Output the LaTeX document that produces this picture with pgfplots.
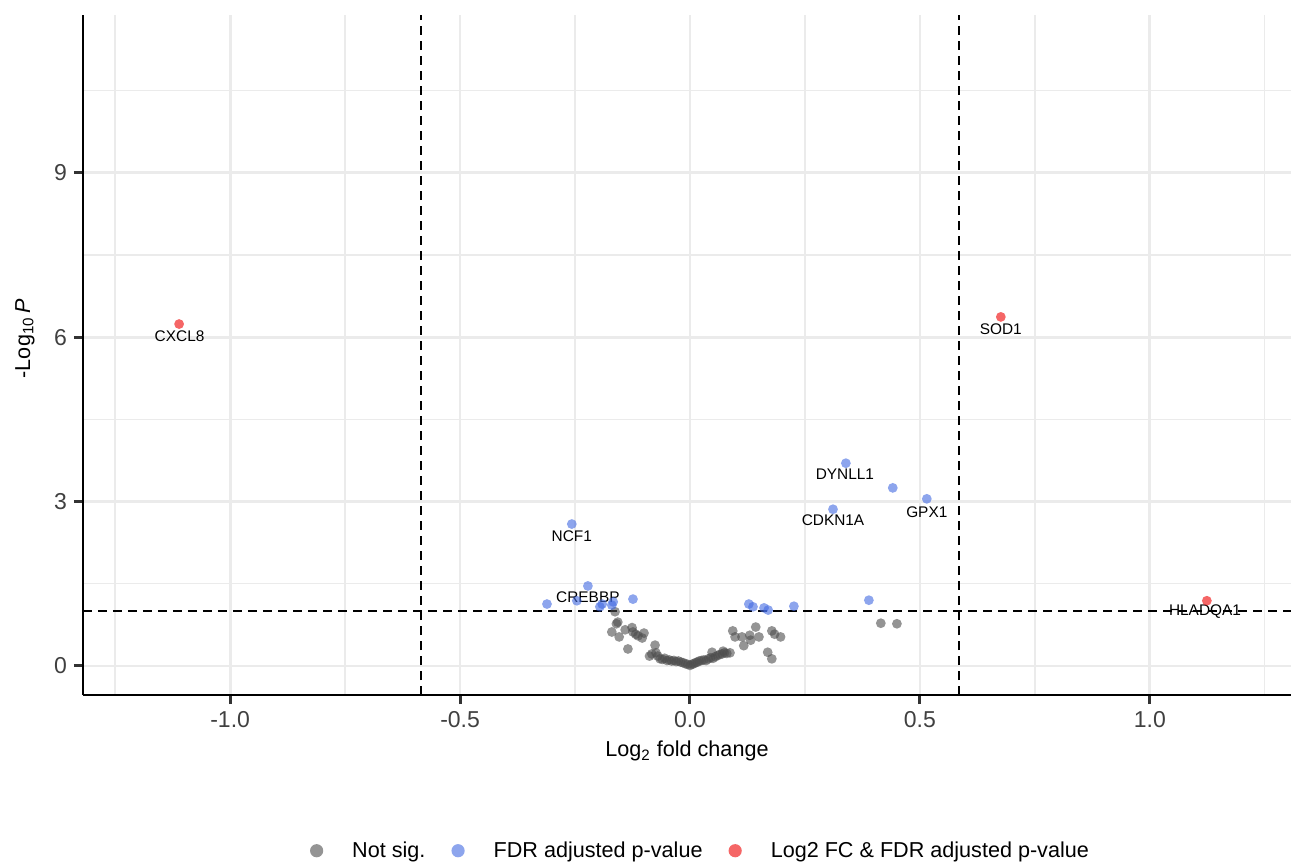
\documentclass[border=0pt]{standalone}
\usepackage{pgfplots}
\pgfplotsset{compat=1.18}
\usepackage{fontspec}
\setmainfont{Liberation Sans}

\definecolor{nsgrey}{HTML}{4D4D4D}
\definecolor{fdrblue}{HTML}{4169E1}
\definecolor{fcred}{HTML}{EE0000}

\pgfplotsset{
  pt/.style={only marks, mark=*, mark size=2.45pt,
    mark options={draw opacity=0, fill=#1, fill opacity=0.6}},
  cut/.style={black, line width=1pt, dash pattern=on 4.5pt off 3pt, forget plot},
}

\begin{document}
\begin{tikzpicture}
\begin{axis}[
  at={(0,0)}, anchor=south west, scale only axis,
  width=604pt, height=340pt,
  xmin=-1.32, xmax=1.307, ymin=-0.53, ymax=11.88,
  axis x line*=bottom, axis y line*=left,
  axis line style={line width=1.2pt, black},
  xtick={-1,-0.5,0,0.5,1}, xticklabels={-1.0,-0.5,0.0,0.5,1.0},
  ytick={0,3,6,9}, yticklabels={0,3,6,9},
  minor xtick={-1.25,-0.75,-0.25,0.25,0.75,1.25},
  minor ytick={1.5,4.5,7.5,10.5},
  grid=both,
  major grid style={line width=1.4pt, color=black!8},
  minor grid style={line width=0.7pt, color=black!8},
  tick align=outside,
  major tick length=4.5pt, minor tick length=0pt,
  tick style={line width=1.5pt, color=black!80},
  tick label style={font=\fontsize{11.5}{13}\selectfont, text=black!75},
  xlabel={Log\textsubscript{2} fold change},
  ylabel={-Log\textsubscript{10}\,\textit{P}},
  label style={font=\fontsize{10.8}{12}\selectfont},
  xlabel style={at={(axis description cs:0.5,-0.091)}, anchor=base},
  ylabel style={at={(axis description cs:-0.048,0.524)}, anchor=center},
  legend columns=3,
  legend style={at={(axis description cs:0.512,-0.229)}, anchor=center,
    draw=none, fill=none, font=\fontsize{10.8}{12}\selectfont,
    /tikz/every odd column/.append style={column sep=12.5pt},
    /tikz/every even column/.append style={column sep=11pt}},
  legend image code/.code={\draw[#1, mark size=3.3pt] plot coordinates {(0pt,0pt)};},
]
% not significant
\addplot[pt=nsgrey] coordinates {
  (-0.163,0.99) (-0.157,0.80) (-0.160,0.77) (-0.170,0.62) (-0.154,0.53)
  (-0.135,0.31) (-0.141,0.66) (-0.126,0.70) (-0.124,0.62) (-0.113,0.55)
  (-0.100,0.60) (-0.104,0.51) (-0.118,0.58) (-0.076,0.38) (-0.083,0.22)
  (-0.074,0.24) (-0.065,0.13) (-0.088,0.18) (-0.070,0.18)
  (-0.060,0.12) (-0.055,0.14) (-0.050,0.10) (-0.045,0.11) (-0.040,0.09)
  (-0.035,0.10) (-0.030,0.08) (-0.025,0.09) (-0.020,0.07) (-0.015,0.06)
  (-0.010,0.04) (-0.005,0.03) (0.000,0.01) (0.004,0.03) (0.008,0.04)
  (0.012,0.06) (0.016,0.07) (0.020,0.09) (0.025,0.10) (0.030,0.11)
  (0.035,0.10) (0.040,0.13) (0.045,0.15) (0.050,0.14) (0.055,0.17)
  (0.060,0.19) (0.065,0.21) (0.070,0.22) (0.075,0.24) (0.080,0.23)
  (0.048,0.25) (0.072,0.27) (0.087,0.24) (0.093,0.64) (0.098,0.53)
  (0.113,0.53) (0.117,0.37) (0.130,0.56) (0.132,0.47) (0.143,0.71)
  (0.150,0.53) (0.169,0.25) (0.178,0.13) (0.178,0.64) (0.184,0.58)
  (0.197,0.53) (0.415,0.78) (0.450,0.77)
};
\addlegendentry{Not sig.}
% FDR adjusted p-value only
\addplot[pt=fdrblue] coordinates {
  (-0.257,2.59) (0.339,3.70) (0.441,3.25) (0.515,3.05) (0.311,2.86)
  (0.389,1.20) (0.226,1.09) (0.128,1.13) (0.137,1.08) (0.161,1.06)
  (0.170,1.02) (-0.311,1.13) (-0.222,1.46) (-0.246,1.19) (-0.196,1.08)
  (-0.191,1.13) (-0.167,1.17) (-0.170,1.11) (-0.124,1.22)
};
\addlegendentry{FDR adjusted p-value}
% log2 FC and FDR
\addplot[pt=fcred] coordinates {
  (-1.111,6.24) (0.676,6.37) (1.124,1.19)
};
\addlegendentry{Log2 FC \& FDR adjusted p-value}

% cut-offs
\addplot[cut] coordinates {(-0.585,-0.53) (-0.585,11.88)};
\addplot[cut] coordinates {(0.585,-0.53) (0.585,11.88)};
\addplot[cut] coordinates {(-1.32,1) (1.307,1)};

% gene labels
\begin{scope}[every node/.style={font=\fontsize{7.7}{9}\selectfont, inner sep=0pt, anchor=center}]
\node at (axis cs:-1.110,6.02) {CXCL8};
\node at (axis cs:0.676,6.15) {SOD1};
\node at (axis cs:1.120,0.985) {HLADQA1};
\node at (axis cs:0.337,3.50) {DYNLL1};
\node at (axis cs:0.311,2.66) {CDKN1A};
\node at (axis cs:0.515,2.81) {GPX1};
\node at (axis cs:-0.257,2.37) {NCF1};
\node at (axis cs:-0.222,1.26) {CREBBP};
\end{scope}
\end{axis}
\pgfresetboundingbox
\path[use as bounding box] (-41.5pt,-83.5pt) rectangle (604pt,347.5pt);
\end{tikzpicture}
\end{document}
